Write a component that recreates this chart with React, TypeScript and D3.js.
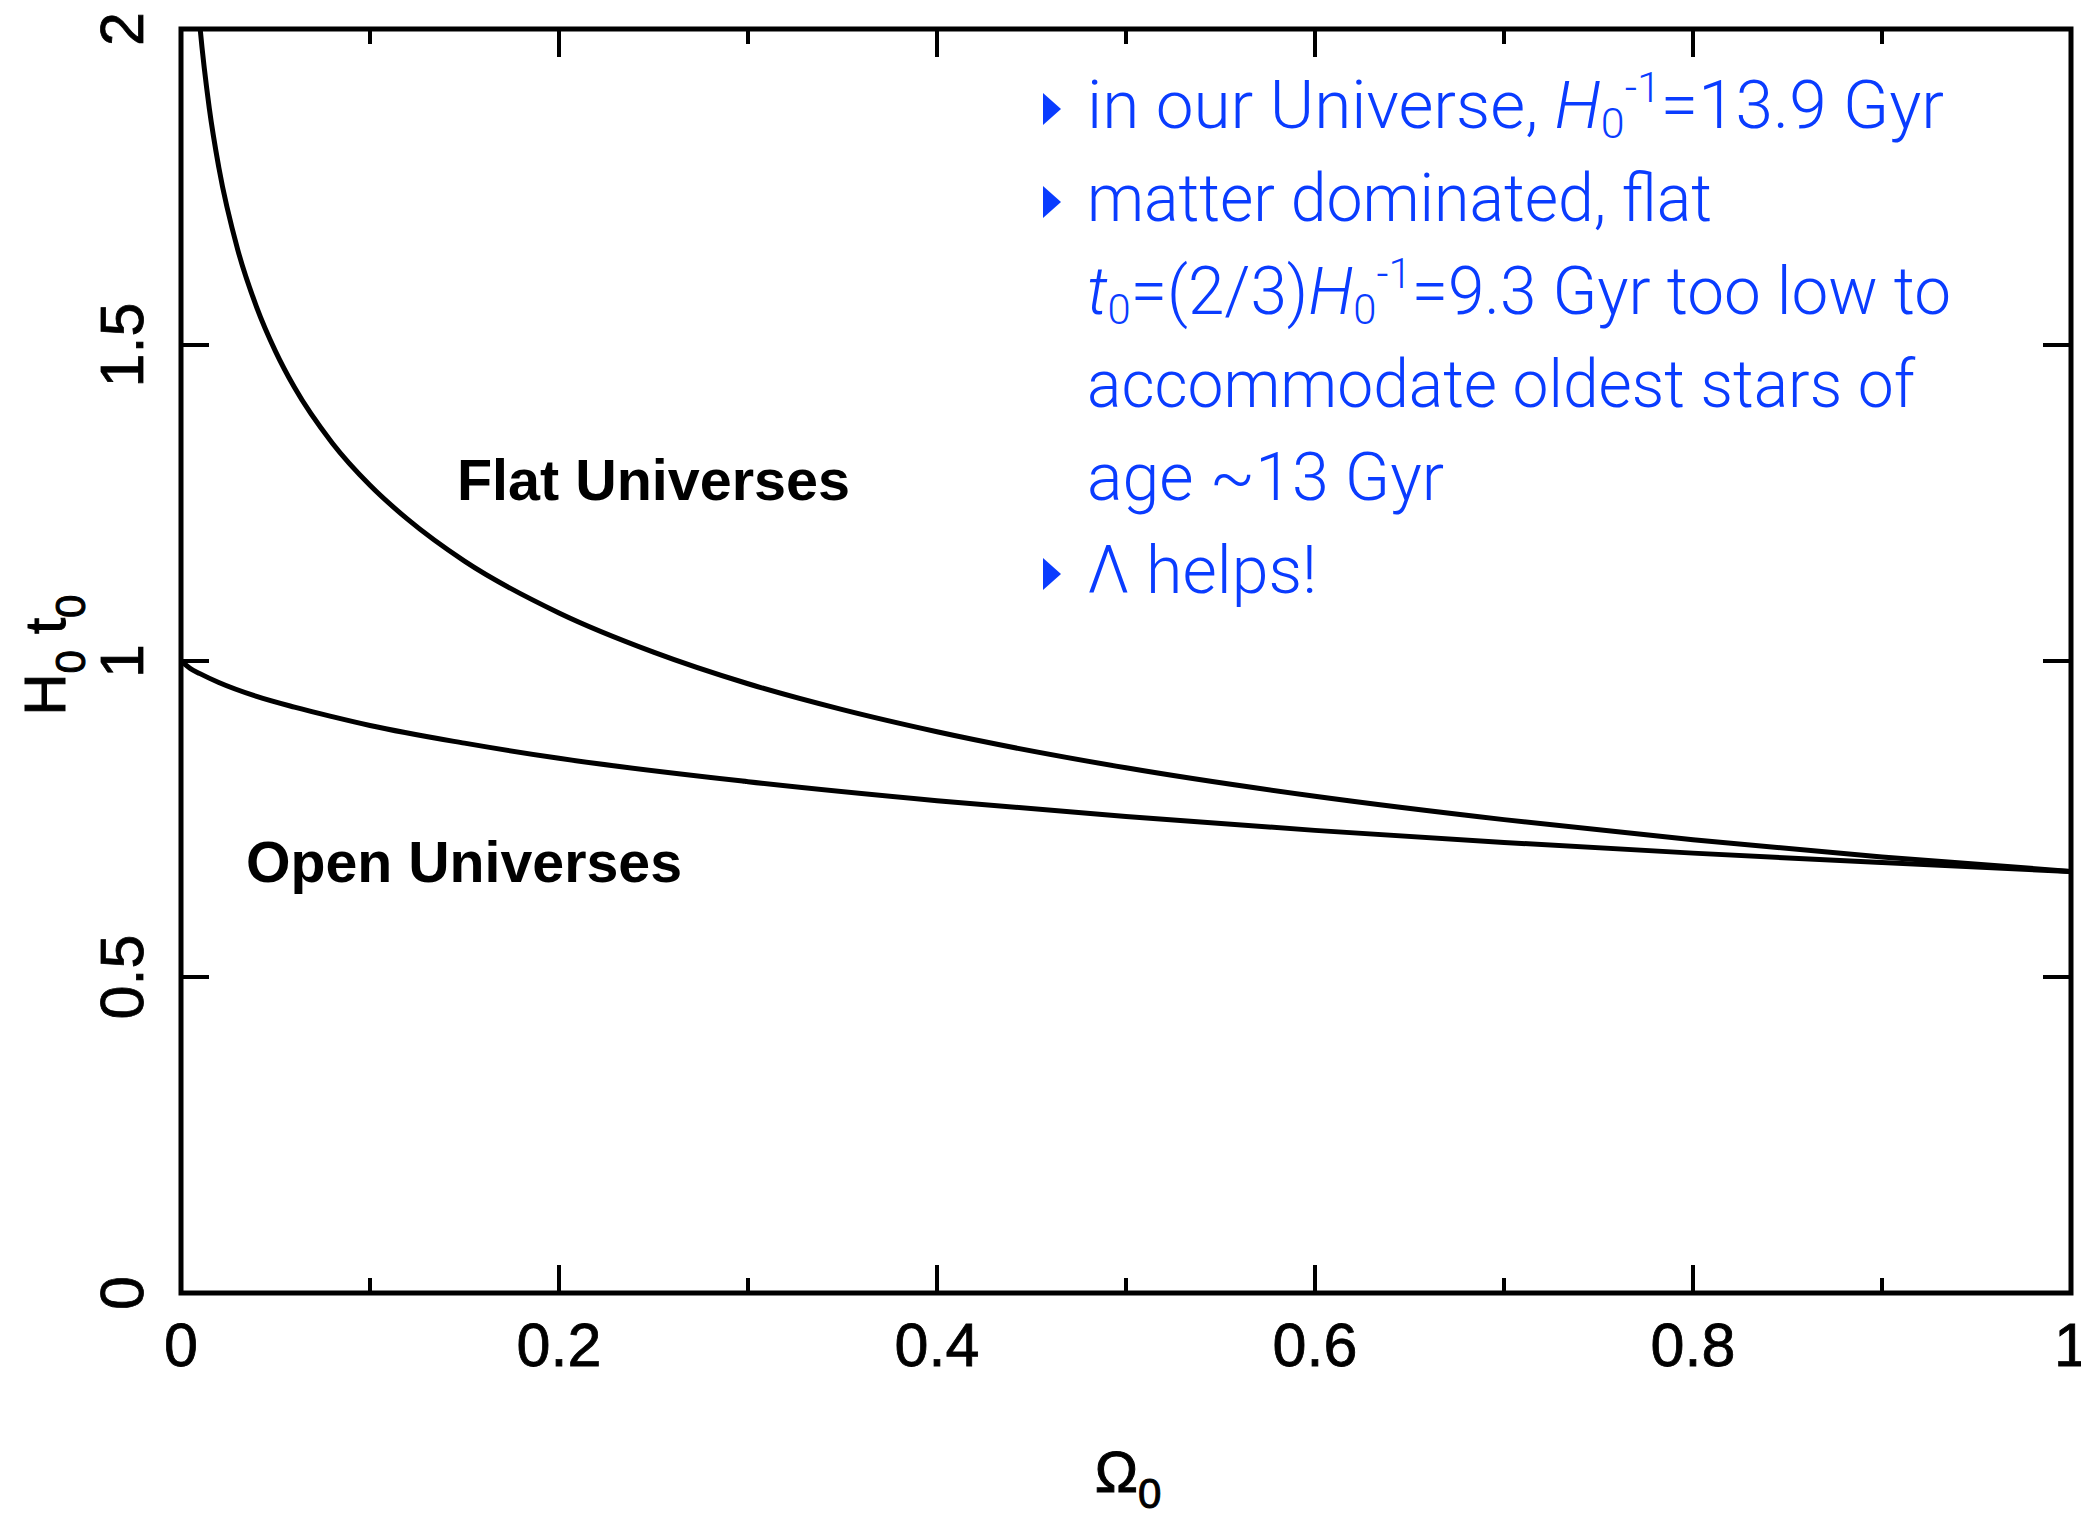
import React from "react";
import * as d3 from "d3";

// Flat universes (Lambda + matter, k = 0)
const omegaFlat = [0.009, 0.01, 0.015, 0.02, 0.03, 0.04, 0.05, 0.06, 0.08, 0.1, 0.12, 0.15, 0.2, 0.25, 0.3, 0.35, 0.4, 0.5, 0.6, 0.7, 0.8, 0.9, 1.0];
const h0t0Flat = [2.04, 2.005, 1.874, 1.781, 1.651, 1.56, 1.49, 1.433, 1.345, 1.278, 1.224, 1.158, 1.076, 1.014, 0.964, 0.923, 0.888, 0.831, 0.786, 0.749, 0.717, 0.69, 0.667];
// Open universes (matter only, Lambda = 0)
const omegaOpen = [0, 0.005, 0.01, 0.02, 0.04, 0.06, 0.08, 0.1, 0.15, 0.2, 0.3, 0.4, 0.5, 0.6, 0.7, 0.8, 0.9, 1.0];
const h0t0Open = [1.0, 0.988, 0.98, 0.966, 0.944, 0.927, 0.912, 0.898, 0.87, 0.846, 0.809, 0.779, 0.754, 0.732, 0.713, 0.696, 0.681, 0.667];

const xMajorTicks = [0, 0.2, 0.4, 0.6, 0.8, 1];
const xMajorLabels = ["0", "0.2", "0.4", "0.6", "0.8", "1"];
const xMinorTicks = [0.1, 0.3, 0.5, 0.7, 0.9];
const yMajorTicks = [0, 0.5, 1, 1.5, 2];
const yMajorLabels = ["0", "0.5", "1", "1.5", "2"];

const W = 2081;
const H = 1519;
const X0 = 181, X1 = 2071, Y0 = 1293, Y1 = 29;
const BLUE = "#0a3cff";

export default function App() {
  const x = d3.scaleLinear().domain([0, 1]).range([X0, X1]);
  const y = d3.scaleLinear().domain([0, 2]).range([Y0, Y1]);
  const line = d3
    .line<[number, number]>()
    .x((d) => x(d[0]))
    .y((d) => y(d[1]))
    .curve(d3.curveMonotoneX);
  const flatPath = line(omegaFlat.map((o, i) => [o, h0t0Flat[i]] as [number, number])) || "";
  const openPath = line(omegaOpen.map((o, i) => [o, h0t0Open[i]] as [number, number])) || "";

  const majorLen = 28;
  const minorLen = 15;
  const axisFont = "'Liberation Sans', Arial, sans-serif";
  const blueFont = "Roboto, 'Open Sans', sans-serif";
  const fsB = 66;
  const subFs = 42;
  const lineH = 93;
  const tx = 1087;
  const base0 = 128;

  const bullet = (i: number) => {
    const cy = base0 + i * lineH - 19;
    return (
      <polygon
        key={"b" + i}
        points={`1043,${cy - 16} 1043,${cy + 16} 1061,${cy}`}
        fill={BLUE}
      />
    );
  };

  return (
    <svg
      width={W}
      height={H}
      viewBox={`0 0 ${W} ${H}`}
      style={{ position: "absolute", left: 0, top: 0, display: "block", background: "#fff" }}
    >
      <defs>
        <clipPath id="plotclip">
          <rect x={X0} y={Y1} width={X1 - X0} height={Y0 - Y1} />
        </clipPath>
      </defs>
      <rect x={0} y={0} width={W} height={H} fill="#fff" />

      {/* curves */}
      <g clipPath="url(#plotclip)" fill="none" stroke="#000" strokeWidth={5}>
        <path d={flatPath} />
        <path d={openPath} />
      </g>

      {/* frame */}
      <rect x={X0} y={Y1} width={X1 - X0} height={Y0 - Y1} fill="none" stroke="#000" strokeWidth={5} />

      {/* ticks */}
      <g stroke="#000" strokeWidth={4}>
        {xMajorTicks.map((t) => (
          <g key={"xm" + t}>
            <line x1={x(t)} x2={x(t)} y1={Y0} y2={Y0 - majorLen} />
            <line x1={x(t)} x2={x(t)} y1={Y1} y2={Y1 + majorLen} />
          </g>
        ))}
        {xMinorTicks.map((t) => (
          <g key={"xn" + t}>
            <line x1={x(t)} x2={x(t)} y1={Y0} y2={Y0 - minorLen} />
            <line x1={x(t)} x2={x(t)} y1={Y1} y2={Y1 + minorLen} />
          </g>
        ))}
        {yMajorTicks.map((t) => (
          <g key={"ym" + t}>
            <line x1={X0} x2={X0 + majorLen} y1={y(t)} y2={y(t)} />
            <line x1={X1} x2={X1 - majorLen} y1={y(t)} y2={y(t)} />
          </g>
        ))}
      </g>

      {/* x tick labels */}
      <g fontFamily={axisFont} fontSize={61} fill="#000" stroke="#000" strokeWidth={0.8} textAnchor="middle">
        {xMajorTicks.map((t, i) => (
          <text key={"xl" + t} x={x(t)} y={1366}>
            {xMajorLabels[i]}
          </text>
        ))}
      </g>
      {/* y tick labels (rotated) */}
      <g fontFamily={axisFont} fontSize={61} fill="#000" stroke="#000" strokeWidth={0.8} textAnchor="middle">
        {yMajorTicks.map((t, i) => (
          <text key={"yl" + t} transform={`translate(143,${y(t)}) rotate(-90)`}>
            {yMajorLabels[i]}
          </text>
        ))}
      </g>

      {/* axis titles */}
      <text
        fontFamily={axisFont}
        fontSize={58}
        fill="#000"
        stroke="#000"
        strokeWidth={1}
        textAnchor="middle"
        transform={`translate(65,655) rotate(-90)`}
      >
        <tspan>H</tspan>
        <tspan fontSize={42} dy={20}>0</tspan>
        <tspan dy={-20}> t</tspan>
        <tspan fontSize={42} dy={20}>0</tspan>
      </text>
      <text fontFamily={axisFont} fontSize={58} fill="#000" stroke="#000" strokeWidth={1} textAnchor="middle" x={1128} y={1492}>
        <tspan>Ω</tspan>
        <tspan fontSize={42} dy={16}>0</tspan>
      </text>

      {/* region labels */}
      <text fontFamily={axisFont} fontSize={58} fontWeight="bold" fill="#000" x={457} y={500} textLength={393} lengthAdjust="spacingAndGlyphs">
        Flat Universes
      </text>
      <text fontFamily={axisFont} fontSize={58} fontWeight="bold" fill="#000" x={246} y={882} textLength={436} lengthAdjust="spacingAndGlyphs">
        Open Universes
      </text>

      {/* blue annotation */}
      <g fontFamily={blueFont} fontWeight={300} fontSize={fsB} fill={BLUE}>
        {bullet(0)}
        {bullet(1)}
        {bullet(5)}
        <text x={tx} y={base0} textLength={857} lengthAdjust="spacingAndGlyphs">
          <tspan>in our Universe, </tspan>
          <tspan fontStyle="italic">H</tspan>
          <tspan fontSize={subFs} dy={10}>0</tspan>
          <tspan fontSize={subFs} dy={-36}>-1</tspan>
          <tspan dy={26}>=13.9 Gyr</tspan>
        </text>
        <text x={tx} y={base0 + lineH} textLength={625} lengthAdjust="spacingAndGlyphs">matter dominated, flat</text>
        <text x={tx} y={base0 + 2 * lineH} textLength={864} lengthAdjust="spacingAndGlyphs">
          <tspan fontStyle="italic">t</tspan>
          <tspan fontSize={subFs} dy={10}>0</tspan>
          <tspan dy={-10}>=(2/3)</tspan>
          <tspan fontStyle="italic">H</tspan>
          <tspan fontSize={subFs} dy={10}>0</tspan>
          <tspan fontSize={subFs} dy={-36}>-1</tspan>
          <tspan dy={26}>=9.3 Gyr too low to</tspan>
        </text>
        <text x={tx} y={base0 + 3 * lineH} textLength={828} lengthAdjust="spacingAndGlyphs">accommodate oldest stars of</text>
        <text x={tx} y={base0 + 4 * lineH} textLength={357} lengthAdjust="spacingAndGlyphs">age ~13 Gyr</text>
        <text x={tx} y={base0 + 5 * lineH} textLength={230} lengthAdjust="spacingAndGlyphs">Λ helps!</text>
      </g>
    </svg>
  );
}
